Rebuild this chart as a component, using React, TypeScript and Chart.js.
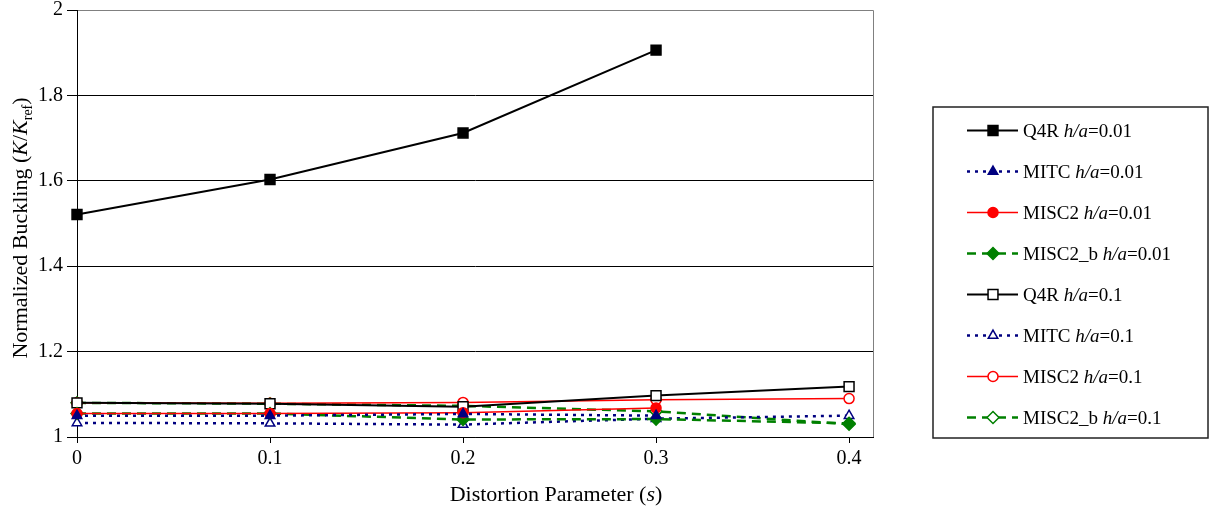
import React, { useEffect, useRef } from 'react';
import { Chart, registerables } from 'chart.js';

Chart.register(...registerables);

// ---- data ----
const sValues = [0, 0.1, 0.2, 0.3, 0.4];
const xTickValues = [0, 0.1, 0.2, 0.3, 0.4];
const yTickMin = 1;
const yTickMax = 2;
const yTickStep = 0.2;

const q4r001 = [1.521, 1.603, 1.712, 1.906];
const mitc001 = [1.05, 1.05, 1.054, 1.05];
const misc2001 = [1.055, 1.055, 1.057, 1.068];
const misc2b001 = [1.055, 1.055, 1.041, 1.042, 1.032];
const q4r01 = [1.08, 1.078, 1.071, 1.097, 1.118];
const mitc01 = [1.033, 1.032, 1.029, 1.043, 1.05];
const misc201 = [1.08, 1.079, 1.081, 1.087, 1.09];
const misc2b01 = [1.08, 1.078, 1.073, 1.06, 1.03];

const seriesLabels = [
  'Q4R h/a=0.01',
  'MITC h/a=0.01',
  'MISC2 h/a=0.01',
  'MISC2_b h/a=0.01',
  'Q4R h/a=0.1',
  'MITC h/a=0.1',
  'MISC2 h/a=0.1',
  'MISC2_b h/a=0.1',
];
const seriesValues = [q4r001, mitc001, misc2001, misc2b001, q4r01, mitc01, misc201, misc2b01];

const xTitleParts = [
  { t: 'Distortion Parameter (' },
  { t: 's', it: true },
  { t: ')' },
];
const yTitleParts = [
  { t: 'Normalized Buckling (' },
  { t: 'K', it: true },
  { t: '/' },
  { t: 'K', it: true },
  { t: 'ref', sub: true },
  { t: ')' },
];

// ---- styles ----
const NAVY = '#000080';
const RED = '#ff0000';
const GREEN = '#008000';
const BLACK = '#000000';
const FONT = '"Liberation Serif", "Times New Roman", serif';

type Sty = { color: string; dash: number[]; width: number; point: string; r: number; filled: boolean };
const styles: Sty[] = [
  { color: BLACK, dash: [], width: 2, point: 'rect', r: 7, filled: true },
  { color: NAVY, dash: [3, 5], width: 2.5, point: 'triangle', r: 5.5, filled: true },
  { color: RED, dash: [], width: 1.5, point: 'circle', r: 5, filled: true },
  { color: GREEN, dash: [9, 6], width: 2.5, point: 'rectRot', r: 6, filled: true },
  { color: BLACK, dash: [], width: 2, point: 'rect', r: 7, filled: false },
  { color: NAVY, dash: [3, 5], width: 2.5, point: 'triangle', r: 5.5, filled: false },
  { color: RED, dash: [], width: 1.5, point: 'circle', r: 5, filled: false },
  { color: GREEN, dash: [9, 6], width: 2.5, point: 'rectRot', r: 6, filled: false },
];

type Part = { t: string; it?: boolean; sub?: boolean };

function partFont(p: Part, size: number) {
  const s = p.sub ? Math.round(size * 0.65) : size;
  return `${p.it ? 'italic ' : ''}${s}px ${FONT}`;
}

function drawRich(ctx: CanvasRenderingContext2D, parts: Part[], cx: number, baseline: number, size: number, align: 'center' | 'left') {
  let total = 0;
  const widths = parts.map((p) => {
    ctx.font = partFont(p, size);
    const w = ctx.measureText(p.t).width;
    total += w;
    return w;
  });
  let x = align === 'center' ? cx - total / 2 : cx;
  ctx.textAlign = 'left';
  ctx.textBaseline = 'alphabetic';
  ctx.fillStyle = '#000';
  parts.forEach((p, i) => {
    ctx.font = partFont(p, size);
    ctx.fillText(p.t, x, baseline + (p.sub ? size * 0.22 : 0));
    x += widths[i];
  });
}

function labelParts(label: string): Part[] {
  const idx = label.indexOf('h/a');
  return [
    { t: label.slice(0, idx) },
    { t: 'h/a', it: true },
    { t: label.slice(idx + 3) },
  ];
}

function drawMarker(ctx: CanvasRenderingContext2D, sty: Sty, x: number, y: number) {
  const r = sty.r;
  ctx.save();
  ctx.setLineDash([]);
  ctx.beginPath();
  if (sty.point === 'rect') {
    const s = r * Math.SQRT1_2;
    ctx.rect(x - s, y - s, 2 * s, 2 * s);
  } else if (sty.point === 'triangle') {
    for (let k = 0; k < 3; k++) {
      const a = (k * 2 * Math.PI) / 3;
      const px = x + Math.sin(a) * r;
      const py = y - Math.cos(a) * r;
      if (k === 0) ctx.moveTo(px, py);
      else ctx.lineTo(px, py);
    }
    ctx.closePath();
  } else if (sty.point === 'circle') {
    ctx.arc(x, y, r, 0, Math.PI * 2);
  } else {
    ctx.moveTo(x - r, y);
    ctx.lineTo(x, y - r);
    ctx.lineTo(x + r, y);
    ctx.lineTo(x, y + r);
    ctx.closePath();
  }
  ctx.fillStyle = sty.filled ? sty.color : '#ffffff';
  ctx.fill();
  ctx.lineWidth = 1.5;
  ctx.strokeStyle = sty.color;
  ctx.stroke();
  ctx.restore();
}

const decorPlugin = {
  id: 'decor',
  beforeDraw(chart: any) {
    const ctx = chart.ctx as CanvasRenderingContext2D;
    const a = chart.chartArea;
    ctx.save();
    ctx.fillStyle = '#ffffff';
    ctx.fillRect(0, 0, chart.width, chart.height);
    ctx.strokeStyle = '#808080';
    ctx.lineWidth = 1;
    ctx.beginPath();
    ctx.moveTo(a.left, Math.round(a.top) + 0.5);
    ctx.lineTo(Math.round(a.right) + 0.5, Math.round(a.top) + 0.5);
    ctx.lineTo(Math.round(a.right) + 0.5, a.bottom);
    ctx.stroke();
    ctx.restore();
  },
  afterDraw(chart: any) {
    const ctx = chart.ctx as CanvasRenderingContext2D;
    ctx.save();
    // axis titles
    drawRich(ctx, xTitleParts, 556, 501, 22, 'center');
    ctx.save();
    ctx.translate(27, 228);
    ctx.rotate(-Math.PI / 2);
    drawRich(ctx, yTitleParts, 0, 0, 22, 'center');
    ctx.restore();

    // legend
    const lx0 = 933, ly0 = 107, lx1 = 1208, ly1 = 438;
    ctx.strokeStyle = '#222';
    ctx.lineWidth = 1.5;
    ctx.strokeRect(lx0, ly0, lx1 - lx0, ly1 - ly0);
    seriesLabels.forEach((lab, i) => {
      const sty = styles[i];
      const y = 130.5 + i * 41;
      ctx.save();
      ctx.strokeStyle = sty.color;
      ctx.lineWidth = sty.width;
      ctx.setLineDash(sty.dash);
      ctx.beginPath();
      ctx.moveTo(967, y);
      ctx.lineTo(1018, y);
      ctx.stroke();
      ctx.restore();
      drawMarker(ctx, sty, 993, y);
      drawRich(ctx, labelParts(lab), 1023, y + 6.5, 19, 'left');
    });
    ctx.restore();
  },
};

function fmt(v: number) {
  return String(Number(v.toFixed(2)));
}

export default function App() {
  const ref = useRef<HTMLCanvasElement | null>(null);
  useEffect(() => {
    if (!ref.current) return;
    const datasets = seriesValues.map((vals, i) => {
      const sty = styles[i];
      return {
        label: seriesLabels[i],
        data: vals.map((y, k) => ({ x: sValues[k], y })),
        borderColor: sty.color,
        borderWidth: sty.width,
        borderDash: sty.dash,
        backgroundColor: sty.filled ? sty.color : '#ffffff',
        pointStyle: sty.point,
        pointRadius: sty.r,
        pointBorderWidth: 1.5,
        pointBorderColor: sty.color,
        pointBackgroundColor: sty.filled ? sty.color : '#ffffff',
        fill: false,
        tension: 0,
        clip: false,
        order: i,
      };
    });
    const chart = new Chart(ref.current, {
      type: 'line',
      data: { datasets },
      options: {
        animation: false,
        responsive: false,
        devicePixelRatio: 1,
        events: [],
        layout: { padding: { left: 0, top: 10, right: 341, bottom: 0 } },
        plugins: {
          legend: { display: false },
          tooltip: { enabled: false },
          title: { display: false },
        },
        scales: {
          x: {
            type: 'linear',
            min: 0,
            max: 0.4124,
            afterBuildTicks: (scale: any) => {
              scale.ticks = xTickValues.map((v) => ({ value: v }));
            },
            afterFit: (scale: any) => {
              scale.height = 73;
              scale.paddingLeft = 0;
              scale.paddingRight = 0;
            },
            grid: {
              drawOnChartArea: false,
              drawTicks: true,
              tickLength: 6,
              tickColor: BLACK,
              color: BLACK,
            },
            border: { color: BLACK, width: 1 },
            ticks: {
              color: BLACK,
              font: { family: FONT, size: 20 },
              padding: 4,
              maxRotation: 0,
              autoSkip: false,
              callback: (v: any) => fmt(Number(v)),
            },
          },
          y: {
            type: 'linear',
            min: yTickMin,
            max: yTickMax,
            afterFit: (scale: any) => {
              scale.width = 77;
              scale.paddingTop = 0;
              scale.paddingBottom = 0;
            },
            grid: {
              color: (c: any) => (c.tick && Math.abs(c.tick.value - yTickMax) < 1e-6 ? '#808080' : BLACK),
              tickColor: BLACK,
              tickLength: 10,
              lineWidth: 1,
            },
            border: { color: BLACK, width: 1 },
            ticks: {
              stepSize: yTickStep,
              color: BLACK,
              font: { family: FONT, size: 20 },
              padding: 4,
              callback: (v: any) => fmt(Number(v)),
            },
          },
        },
      },
      plugins: [decorPlugin],
    } as any);
    return () => chart.destroy();
  }, []);
  return (
    <div style={{ position: 'absolute', left: 0, top: 0, width: 1214, height: 510 }}>
      <canvas ref={ref} width={1214} height={510} style={{ display: 'block', width: 1214, height: 510 }} />
    </div>
  );
}
